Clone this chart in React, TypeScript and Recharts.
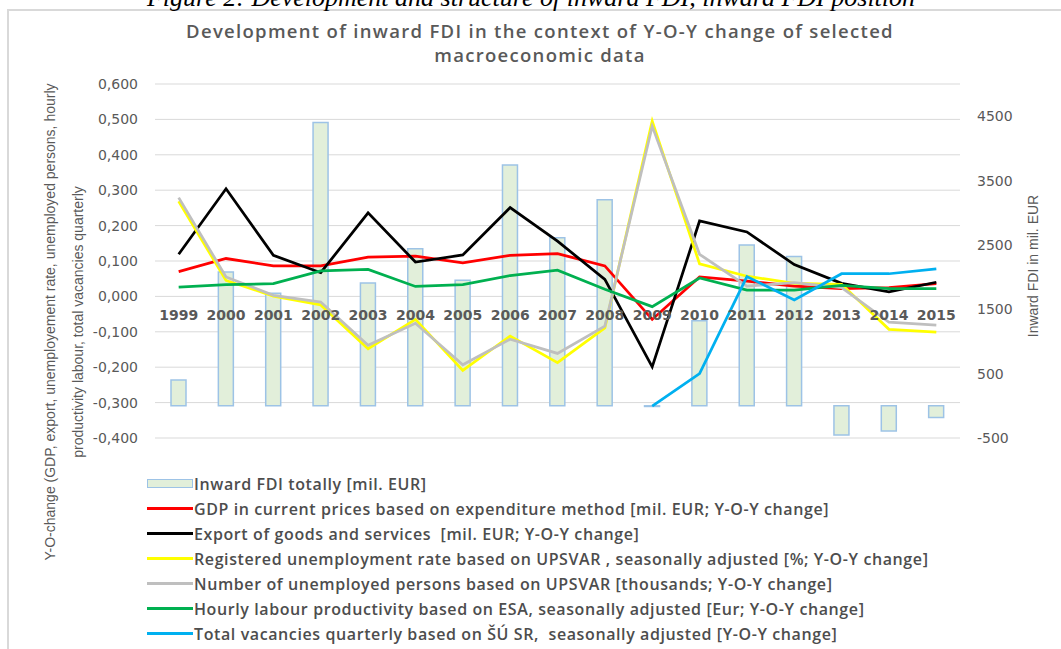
import React from 'react';
import { Bar, CartesianGrid, ComposedChart, Legend, Line, XAxis, YAxis } from 'recharts';

const years = ['1999', '2000', '2001', '2002', '2003', '2004', '2005', '2006', '2007', '2008', '2009', '2010', '2011', '2012', '2013', '2014', '2015'];
const fdiTotal = [400, 2080, 1750, 4400, 1910, 2440, 1950, 3740, 2610, 3200, -10, 1320, 2500, 2320, -455, -390, -180];
const gdpChange = [0.07, 0.107, 0.086, 0.086, 0.111, 0.114, 0.095, 0.116, 0.121, 0.086, -0.065, 0.055, 0.043, 0.029, 0.022, 0.025, 0.036];
const exportChange = [0.119, 0.304, 0.116, 0.067, 0.236, 0.097, 0.117, 0.251, 0.156, 0.048, -0.199, 0.213, 0.182, 0.09, 0.037, 0.013, 0.04];
const unemploymentRateChange = [0.269, 0.045, 0.001, -0.024, -0.148, -0.065, -0.209, -0.112, -0.187, -0.089, 0.495, 0.092, 0.057, 0.037, 0.034, -0.093, -0.101];
const unemployedPersonsChange = [0.279, 0.055, 0.003, -0.016, -0.138, -0.076, -0.193, -0.121, -0.161, -0.084, 0.481, 0.119, 0.029, 0.039, 0.025, -0.073, -0.081];
const productivityChange = [0.026, 0.033, 0.036, 0.072, 0.076, 0.028, 0.033, 0.059, 0.074, 0.02, -0.029, 0.052, 0.018, 0.018, 0.031, 0.022, 0.022];
const vacanciesChange = [null, null, null, null, null, null, null, null, null, null, -0.31, -0.218, 0.056, -0.01, 0.064, 0.064, 0.078];

const leftTicks = [-0.4, -0.3, -0.2, -0.1, 0, 0.1, 0.2, 0.3, 0.4, 0.5, 0.6];
const rightTicks = [-500, 500, 1500, 2500, 3500, 4500];
const rightDomain = [-500, 5000];

const names = {
  fdi: 'Inward FDI totally [mil. EUR]',
  gdp: 'GDP in current prices based on expenditure method [mil. EUR; Y-O-Y change]',
  exp: 'Export of goods and services  [mil. EUR; Y-O-Y change]',
  rate: 'Registered unemployment rate based on UPSVAR , seasonally adjusted [%; Y-O-Y change]',
  persons: 'Number of unemployed persons based on UPSVAR [thousands; Y-O-Y change]',
  prod: 'Hourly labour productivity based on ESA, seasonally adjusted [Eur; Y-O-Y change]',
  vac: 'Total vacancies quarterly based on ŠÚ SR,  seasonally adjusted [Y-O-Y change]',
};
const legendOrder = [names.fdi, names.gdp, names.exp, names.rate, names.persons, names.prod, names.vac];

const data = years.map((year, i) => ({
  year,
  fdi: fdiTotal[i],
  gdp: gdpChange[i],
  exp: exportChange[i],
  rate: unemploymentRateChange[i],
  persons: unemployedPersonsChange[i],
  prod: productivityChange[i],
  vac: vacanciesChange[i],
}));

const W = 1061;
const H = 649;
const MARGIN = { top: 84, right: 41, bottom: 210, left: 95 };
const X_AXIS_H = 1;
const PLOT_H = H - MARGIN.top - MARGIN.bottom - X_AXIS_H;
const zeroShift = (PLOT_H * (0 - leftTicks[0])) / (leftTicks[leftTicks.length - 1] - leftTicks[0]);

const BAR_FILL = '#E2EFDA';
const BAR_STROKE = '#9DC3E6';
const GRAY = '#595959';

const fmtLeft = (v: number) => v.toFixed(3).replace('.', ',');

function YearTick({ x, y, payload }: any) {
  return (
    <text
      x={x}
      y={y - zeroShift}
      dy={24}
      textAnchor="middle"
      fill={GRAY}
      fontSize={14}
      fontWeight="bold"
      fontFamily="DejaVu Sans"
    >
      {payload.value}
    </text>
  );
}

function LegendList({ payload }: any) {
  const items = [...(payload || [])].sort(
    (a: any, b: any) => legendOrder.indexOf(a.value) - legendOrder.indexOf(b.value)
  );
  return (
    <div>
      {items.map((entry: any) => (
        <div key={entry.value} style={{ display: 'flex', alignItems: 'center', height: 25 }}>
          {entry.type === 'rect' ? (
            <div
              style={{
                width: 44,
                height: 7,
                background: BAR_FILL,
                border: `1px solid ${BAR_STROKE}`,
              }}
            />
          ) : (
            <div style={{ width: 46, height: 3, background: entry.color }} />
          )}
          <span
            style={{
              marginLeft: 1,
              fontFamily: '"Open Sans", sans-serif',
              fontWeight: 600,
              fontSize: 16,
              letterSpacing: 0.6,
              color: '#4d4d4d',
              whiteSpace: 'pre',
            }}
          >
            {entry.value}
          </span>
        </div>
      ))}
    </div>
  );
}

export default function App() {
  return (
    <div style={{ position: 'absolute', left: 0, top: 0, width: W, height: H, overflow: 'hidden', background: '#fff' }}>
      <div
        style={{
          position: 'absolute',
          left: 7,
          top: 9,
          width: 1100,
          height: 700,
          border: '2px solid #d9d9d9',
          boxSizing: 'border-box',
        }}
      />
      <svg width={W} height={H} style={{ position: 'absolute', left: 0, top: 0 }}>
        <text x={531} y={6} textAnchor="middle" fontFamily="Liberation Serif" fontStyle="italic" fontSize={26}>
          Figure 2: Development and structure of inward FDI, inward FDI position
        </text>
        <g fill={GRAY} fontFamily='"Open Sans", sans-serif' fontWeight={600} fontSize={18.5} letterSpacing={1.3} textAnchor="middle">
          <text x={540} y={38}>Development of inward FDI in the context of Y-O-Y change of selected</text>
          <text x={540} y={62}>macroeconomic data</text>
        </g>
        <g fill={GRAY} fontFamily="Liberation Sans" fontSize={14} textAnchor="middle">
          <text transform="translate(55,322) rotate(-90)">
            Y-O-change (GDP, export, unemployement rate, unemployed persons, hourly
          </text>
          <text transform="translate(83,322) rotate(-90)">productivity labour, total vacancies quarterly</text>
          <text transform="translate(1038,266) rotate(-90)">Inward FDI in mil. EUR</text>
        </g>
      </svg>
      <div style={{ position: 'absolute', left: 0, top: 0 }}>
        <ComposedChart width={W} height={H} data={data} margin={MARGIN}>
          <CartesianGrid yAxisId="left" vertical={false} stroke="#d9d9d9" />
          <YAxis
            yAxisId="left"
            orientation="left"
            width={60}
            domain={[leftTicks[0], leftTicks[leftTicks.length - 1]]}
            ticks={leftTicks}
            tickFormatter={fmtLeft}
            axisLine={false}
            tickLine={false}
            tickMargin={11}
            tick={{ fill: GRAY, fontSize: 14, fontFamily: 'DejaVu Sans' }}
          />
          <YAxis
            yAxisId="right"
            orientation="right"
            width={60}
            domain={rightDomain}
            ticks={rightTicks}
            axisLine={false}
            tickLine={false}
            tickMargin={11}
            tick={{ fill: GRAY, fontSize: 14, fontFamily: 'DejaVu Sans' }}
          />
          <Bar
            yAxisId="right"
            dataKey="fdi"
            name={names.fdi}
            barSize={15}
            fill={BAR_FILL}
            stroke={BAR_STROKE}
            strokeWidth={1.5}
            isAnimationActive={false}
          />
          <XAxis
            dataKey="year"
            height={X_AXIS_H}
            axisLine={false}
            tickLine={false}
            tickSize={0}
            tickMargin={0}
            interval={0}
            tick={<YearTick />}
          />
          <Line yAxisId="left" dataKey="gdp" name={names.gdp} stroke="#FF0000" strokeWidth={2.75} dot={false} isAnimationActive={false} />
          <Line yAxisId="left" dataKey="exp" name={names.exp} stroke="#000000" strokeWidth={2.75} dot={false} isAnimationActive={false} />
          <Line yAxisId="left" dataKey="rate" name={names.rate} stroke="#FFFF00" strokeWidth={2.75} dot={false} isAnimationActive={false} />
          <Line yAxisId="left" dataKey="persons" name={names.persons} stroke="#BFBFBF" strokeWidth={2.75} dot={false} isAnimationActive={false} />
          <Line yAxisId="left" dataKey="prod" name={names.prod} stroke="#00B050" strokeWidth={2.75} dot={false} isAnimationActive={false} />
          <Line yAxisId="left" dataKey="vac" name={names.vac} stroke="#00B0F0" strokeWidth={2.75} dot={false} isAnimationActive={false} />
          <Legend
            layout="vertical"
            align="center"
            verticalAlign="middle"
            content={<LegendList />}
            wrapperStyle={{ position: 'absolute', left: 147, top: 471, width: 900 }}
          />
        </ComposedChart>
      </div>
    </div>
  );
}
